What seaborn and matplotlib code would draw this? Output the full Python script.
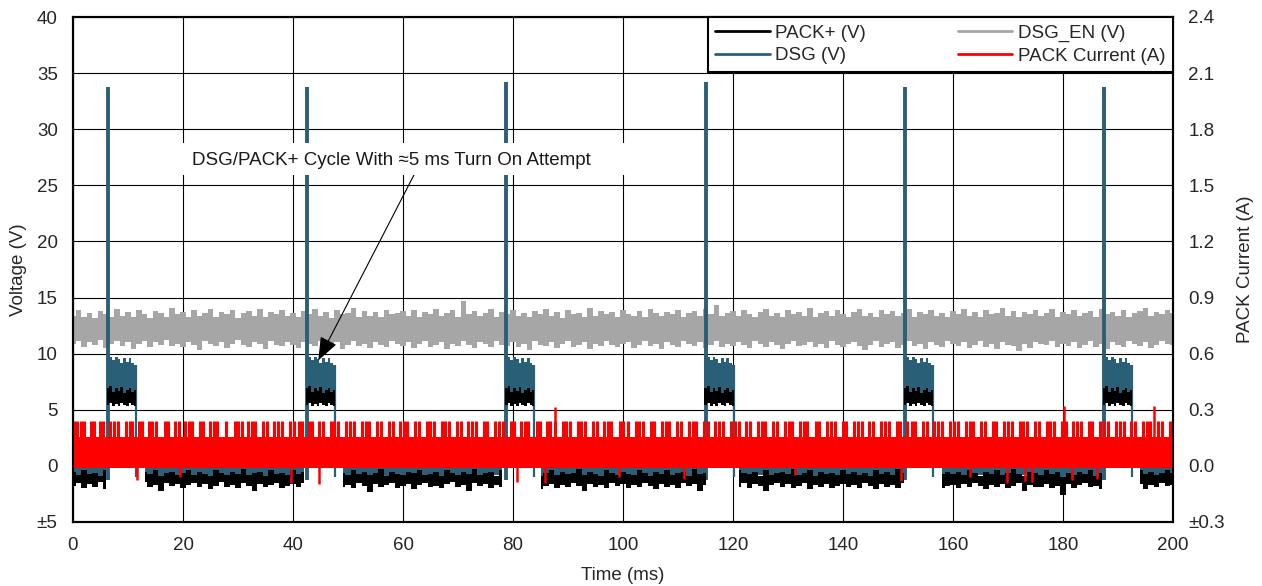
import numpy as np
import matplotlib
matplotlib.use("Agg")
import matplotlib.pyplot as plt
from matplotlib.lines import Line2D
from matplotlib.patches import Rectangle
from matplotlib.ticker import FuncFormatter
import seaborn as sns

# sampled envelopes of the scope traces, one value per ms (0..200 ms)
t = np.arange(0, 201, 1.0)

dsg_en_hi = [
    13.4, 13.9, 13.3, 13.6, 13.2, 13.8, 13.5, 13.3, 14.0, 13.4, 13.7, 13.3, 13.9, 13.5, 13.2, 13.8, 13.6, 13.3, 14.1, 13.5,
    13.7, 13.3, 13.9, 13.4, 13.6, 14.0, 13.3, 13.7, 13.5, 13.9, 13.2, 13.6, 13.8, 13.4, 14.0, 13.3, 13.7, 13.5, 13.9, 13.4,
    13.6, 13.3, 13.8, 13.5, 14.0, 13.4, 13.7, 13.2, 13.9, 13.5, 13.6, 14.1, 13.3, 13.8, 13.4, 13.7, 13.3, 13.9, 13.5, 13.6,
    13.8, 13.4, 13.9, 13.3, 13.7, 13.5, 14.0, 13.4, 13.6, 13.9, 13.3, 14.7, 13.5, 13.8, 13.4, 13.6, 14.0, 13.3, 13.7, 13.5,
    13.9, 13.4, 13.6, 13.3, 13.8, 13.5, 14.0, 13.4, 13.7, 13.2, 13.9, 13.5, 13.6, 13.3, 14.1, 13.4, 13.8, 13.5, 13.7, 13.3,
    13.9, 13.5, 13.4, 13.8, 13.3, 14.0, 13.6, 13.4, 13.7, 13.5, 13.9, 13.3, 13.6, 13.8, 13.4, 14.0, 13.5, 14.3, 13.4, 13.6,
    13.8, 13.4, 13.9, 13.5, 13.3, 13.7, 14.0, 13.4, 13.6, 13.3, 13.9, 13.5, 13.7, 13.4, 14.1, 13.3, 13.6, 13.8, 13.4, 13.9,
    13.5, 13.3, 13.7, 14.0, 13.4, 13.6, 13.3, 13.9, 13.5, 13.8, 13.4, 13.6, 14.0, 13.3, 13.7, 13.5, 13.9, 13.4, 13.6, 13.3,
    13.8, 13.5, 14.0, 13.4, 13.7, 13.3, 13.9, 13.5, 13.6, 14.1, 13.4, 13.8, 13.3, 13.7, 13.5, 13.9, 13.4, 13.6, 14.0, 13.3,
    13.7, 13.5, 13.9, 13.4, 13.6, 13.8, 13.3, 14.0, 13.5, 13.7, 13.4, 13.9, 13.3, 13.6, 13.8, 14.1, 13.4, 13.7, 13.5, 13.9,
    13.6]
dsg_en_lo = [
    10.9, 11.1, 10.6, 11.0, 10.8, 11.2, 10.5, 10.9, 11.1, 10.7, 11.0, 10.4, 10.9, 11.1, 10.6, 11.0, 10.8, 11.2, 10.7, 10.9,
    10.6, 11.0, 10.8, 10.3, 11.1, 10.9, 10.7, 11.0, 10.5, 10.9, 11.2, 10.8, 10.6, 11.0, 10.9, 10.4, 11.1, 10.8, 10.7, 11.0,
    10.8, 10.5, 11.0, 10.9, 10.7, 11.1, 10.6, 10.9, 11.0, 10.4, 10.8, 11.1, 10.7, 10.9, 10.5, 11.0, 10.8, 10.6, 11.1, 10.9,
    10.7, 11.0, 10.5, 10.9, 11.1, 10.6, 10.8, 11.0, 10.4, 10.9, 10.7, 11.1, 10.8, 10.5, 11.0, 10.9, 10.6, 11.1, 10.8, 10.7,
    11.0, 10.6, 10.9, 10.3, 11.1, 10.8, 10.7, 11.0, 10.5, 10.9, 11.1, 10.6, 10.8, 11.0, 10.4, 10.9, 10.7, 11.1, 10.8, 10.6,
    10.9, 11.0, 10.5, 10.8, 11.1, 10.7, 10.9, 10.4, 11.0, 10.8, 10.6, 11.1, 10.9, 10.7, 11.0, 10.5, 10.8, 11.1, 10.6, 10.9,
    10.7, 11.0, 10.8, 10.5, 11.1, 10.9, 10.6, 11.0, 10.8, 10.4, 10.9, 11.1, 10.7, 10.8, 11.0, 10.6, 10.9, 10.5, 11.1, 10.8,
    10.6, 10.9, 11.0, 10.7, 10.3, 10.8, 11.1, 10.6, 10.9, 11.0, 10.5, 10.8, 11.1, 10.7, 10.9, 10.4, 11.0, 10.8, 10.6, 11.1,
    10.9, 10.7, 11.0, 10.5, 10.8, 11.1, 10.6, 10.9, 10.4, 11.0, 10.8, 10.7, 10.2, 10.9, 10.5, 11.0, 10.9, 10.8, 11.1, 10.6,
    10.9, 10.7, 11.0, 10.5, 10.8, 11.1, 10.6, 10.9, 10.4, 11.0, 10.8, 10.6, 11.1, 10.9, 10.7, 11.0, 10.5, 10.8, 11.1, 10.9,
    10.8]

# DSG and PACK+ between pulses (upper part is hidden behind the current trace)
dsg_lo = [
    -1.1, -0.8, -1.3, -0.9, -1.2, -1.0, -1.4, -0.8, -1.1, -1.3, -0.9, -1.2, -1.0, -0.8, -1.3, -1.1, -0.9, -1.4, -1.0, -1.2,
    -0.9, -1.3, -1.0, -1.2, -0.8, -1.1, -1.4, -0.9, -1.2, -1.0, -1.3, -0.8, -1.1, -1.2, -0.9, -1.4, -1.0, -1.2, -0.8, -1.1,
    -1.3, -0.9, -1.1, -1.4, -1.0, -0.8, -1.2, -1.1, -0.9, -1.3, -1.0, -1.2, -0.8, -1.4, -1.1, -0.9, -1.3, -1.0, -1.2, -0.9,
    -1.1, -1.3, -0.8, -1.2, -1.0, -1.4, -0.9, -1.1, -1.3, -0.8, -1.2, -1.0, -1.1, -0.9, -1.4, -1.0, -1.2, -0.8, -1.3, -1.1,
    -0.9, -1.2, -1.0, -1.4, -0.8, -1.1, -1.3, -0.9, -1.2, -1.0, -0.8, -1.3, -1.1, -0.9, -1.4, -1.2, -1.0, -0.8, -1.3, -1.1,
    -1.2, -0.9, -1.3, -1.0, -1.1, -1.4, -0.8, -1.2, -0.9, -1.3, -1.1, -1.0, -1.4, -0.8, -1.2, -1.0, -1.3, -0.9, -1.1, -1.2,
    -1.0, -1.3, -0.9, -1.1, -1.4, -0.8, -1.2, -1.0, -1.3, -0.9, -1.1, -1.2, -0.8, -1.4, -1.0, -1.3, -0.9, -1.1, -1.2, -1.0,
    -1.3, -0.8, -1.1, -1.2, -0.9, -1.4, -1.0, -1.2, -0.8, -1.3, -1.1, -0.9, -1.2, -1.0, -1.4, -0.8, -1.1, -1.3, -0.9, -1.2,
    -1.0, -1.2, -0.9, -1.4, -1.1, -0.8, -1.3, -1.0, -1.2, -0.9, -1.1, -1.4, -1.0, -0.8, -1.3, -1.2, -0.9, -1.1, -1.0, -1.3,
    -1.1, -0.9, -1.3, -1.0, -1.2, -0.8, -1.4, -1.1, -0.9, -1.2, -1.0, -1.3, -0.8, -1.1, -1.4, -0.9, -1.2, -1.0, -1.3, -1.1,
    -1.0]
pack_hi = [
    -0.5, -0.8, -0.4, -0.7, -0.6, -0.9, -0.4, -0.7, -0.5, -0.8, -0.6, -0.3, -0.8, -0.5, -0.7, -0.4, -0.9, -0.6, -0.5, -0.8,
    -0.6, -0.4, -0.8, -0.5, -0.7, -0.9, -0.4, -0.6, -0.8, -0.5, -0.7, -0.3, -0.8, -0.6, -0.5, -0.9, -0.4, -0.7, -0.6, -0.8,
    -0.4, -0.7, -0.5, -0.8, -0.6, -0.4, -0.9, -0.5, -0.7, -0.6, -0.8, -0.4, -0.7, -0.5, -0.8, -0.6, -0.3, -0.9, -0.5, -0.7,
    -0.8, -0.5, -0.6, -0.4, -0.8, -0.7, -0.5, -0.9, -0.4, -0.6, -0.8, -0.5, -0.7, -0.3, -0.8, -0.6, -0.5, -0.9, -0.4, -0.7,
    -0.6, -0.8, -0.4, -0.7, -0.5, -0.9, -0.6, -0.4, -0.8, -0.5, -0.7, -0.6, -0.3, -0.8, -0.5, -0.7, -0.9, -0.4, -0.6, -0.8,
    -0.5, -0.7, -0.8, -0.4, -0.6, -0.9, -0.5, -0.7, -0.4, -0.8, -0.6, -0.5, -0.9, -0.3, -0.7, -0.6, -0.8, -0.4, -0.5, -0.7,
    -0.8, -0.4, -0.6, -0.7, -0.5, -0.9, -0.4, -0.8, -0.6, -0.5, -0.7, -0.3, -0.8, -0.6, -0.4, -0.9, -0.5, -0.7, -0.6, -0.8,
    -0.4, -0.7, -0.5, -0.8, -0.6, -0.9, -0.4, -0.7, -0.5, -0.8, -0.3, -0.6, -0.7, -0.9, -0.5, -0.4, -0.8, -0.6, -0.7, -0.5,
    -0.7, -0.5, -0.8, -0.4, -0.6, -0.9, -0.5, -0.7, -0.4, -0.8, -0.6, -0.3, -0.7, -0.9, -0.5, -0.6, -0.8, -0.4, -0.7, -0.5,
    -1.0, -0.6, -0.8, -0.5, -0.7, -0.4, -0.9, -0.6, -0.5, -0.8, -0.7, -0.3, -0.6, -0.9, -0.4, -0.7, -0.5, -0.8, -0.6, -0.4,
    -0.6]
pack_lo = [
    -1.8, -1.5, -2.0, -1.6, -1.9, -1.4, -2.1, -1.7, -1.5, -1.9, -1.6, -2.0, -1.8, -1.4, -1.9, -1.7, -2.2, -1.5, -1.8, -1.6,
    -2.0, -1.7, -1.5, -1.9, -1.6, -2.1, -1.8, -1.4, -1.9, -1.7, -2.0, -1.5, -1.8, -2.2, -1.6, -1.9, -1.7, -1.5, -2.0, -1.8,
    -1.6, -1.9, -1.5, -2.0, -1.7, -1.8, -1.4, -2.1, -1.6, -1.9, -1.7, -2.0, -1.5, -1.8, -2.3, -1.6, -1.9, -1.7, -1.5, -2.0,
    -1.8, -1.6, -2.1, -1.7, -1.5, -1.9, -1.8, -2.0, -1.6, -1.4, -1.9, -1.7, -2.2, -1.5, -1.8, -1.6, -2.0, -1.7, -1.9, -1.5,
    -2.0, -1.7, -1.6, -1.9, -1.5, -2.1, -1.8, -1.6, -2.0, -1.7, -1.9, -1.5, -1.8, -2.2, -1.6, -1.9, -1.7, -2.0, -1.5, -1.8,
    -1.6, -2.0, -1.7, -1.9, -1.5, -1.8, -2.1, -1.6, -1.9, -1.7, -2.0, -1.5, -1.8, -1.6, -2.2, -1.7, -1.9, -1.5, -2.0, -1.8,
    -1.7, -1.9, -1.5, -2.0, -1.6, -1.8, -2.2, -1.7, -1.5, -1.9, -1.6, -2.0, -1.8, -1.5, -2.1, -1.7, -1.9, -1.6, -2.0, -1.8,
    -1.6, -1.9, -1.7, -2.0, -1.5, -1.8, -2.1, -1.6, -1.9, -1.7, -2.0, -1.5, -1.8, -2.2, -1.6, -1.9, -1.7, -1.5, -2.0, -1.8,
    -1.7, -2.0, -1.6, -1.9, -1.5, -1.8, -2.1, -1.7, -1.9, -1.6, -2.0, -1.8, -1.5, -2.2, -1.7, -1.9, -1.9, -1.6, -2.0, -1.8,
    -2.6, -1.6, -2.0, -1.7, -1.5, -1.9, -1.8, -2.1, -1.6, -1.9, -1.7, -2.0, -1.5, -1.8, -1.6, -2.1, -1.7, -1.9, -1.5, -1.8,
    -1.7]

# turn-on attempts (ms / V)
pulse_start = [6.1, 42.3, 78.5, 114.8, 151.0, 187.2]
pulse_end = [11.4, 47.6, 83.9, 120.1, 156.3, 192.6]
spike_t = [6.3, 42.5, 78.8, 115.0, 151.2, 187.5]
spike_peak = [33.8, 33.8, 34.2, 34.2, 33.8, 33.8]

# shape inside one attempt, sampled every 0.5 ms from its start
pulse_offset = [0.0, 0.5, 1.0, 1.5, 2.0, 2.5, 3.0, 3.5, 4.0, 4.5, 5.0]
pulse_dsg_hi = [10.0, 9.7, 9.4, 9.7, 9.5, 9.2, 9.6, 9.3, 9.6, 9.2, 9.0]
pulse_pack_hi = [6.9, 7.1, 6.6, 6.9, 6.7, 7.0, 6.5, 6.8, 6.9, 6.6, 6.8]
pulse_pack_lo = [5.4, 5.6, 5.3, 5.5, 5.3, 5.6, 5.4, 5.3, 5.6, 5.4, 5.3]

# PACK current (A)
cur_core_lo = -0.012
cur_core_hi = 0.156
cur_spike_hi = 0.24
cur_spike_t = [
    0.2, 0.7, 1.5, 2.0, 3.3, 3.8, 4.9, 5.4, 6.8, 7.5, 8.1, 9.6,
    10.3, 10.8, 12.0, 12.6, 13.9, 14.4, 15.0, 16.7, 17.2, 18.5, 19.3,
    20.4, 21.0, 21.6, 23.1, 23.7, 24.9, 25.6, 26.2, 27.8, 29.4,
    30.0, 30.7, 31.9, 32.5, 33.1, 34.6, 35.2, 36.5, 37.3, 38.0, 39.5,
    40.2, 41.0, 41.6, 42.9, 43.5, 44.8, 45.4, 46.9, 47.5, 48.2, 49.7,
    50.3, 51.1, 52.6, 53.2, 53.8, 55.3, 56.0, 57.4, 58.1, 59.5,
    60.1, 60.8, 62.2, 62.9, 64.3, 64.9, 65.6, 67.0, 67.7, 68.4, 69.8,
    70.5, 71.9, 72.6, 73.2, 74.7, 75.3, 76.8, 77.4, 78.1, 79.6,
    80.2, 81.5, 82.1, 82.8, 84.3, 84.9, 86.1, 86.8, 87.6, 89.0, 89.7,
    90.3, 91.8, 92.4, 93.0, 94.6, 95.2, 96.5, 97.3, 97.9, 99.4,
    100.0, 100.9, 102.3, 102.9, 103.6, 105.0, 105.7, 107.1, 107.8, 108.4, 109.9,
    110.6, 112.0, 112.7, 113.3, 114.8, 115.4, 116.7, 117.5, 118.1, 119.6,
    120.3, 121.0, 122.4, 123.1, 124.5, 125.2, 125.9, 127.3, 128.0, 129.4,
    130.1, 130.8, 132.2, 132.9, 133.5, 135.0, 135.7, 137.1, 137.8, 138.5,
    140.0, 140.6, 142.0, 142.7, 143.4, 144.8, 145.5, 146.9, 147.6, 148.3, 149.8,
    150.4, 151.7, 152.5, 153.1, 154.6, 155.2, 156.6, 157.3, 158.0, 159.5,
    160.2, 160.9, 162.3, 163.0, 163.6, 165.1, 165.8, 167.2, 167.9, 169.3,
    170.0, 170.7, 172.1, 172.8, 173.4, 174.9, 175.6, 177.0, 177.7, 178.4, 179.8,
    180.5, 181.9, 182.6, 183.2, 184.7, 185.3, 186.7, 187.4, 188.1, 189.6,
    190.3, 191.0, 192.4, 193.1, 194.5, 195.2, 195.9, 197.3, 198.0, 199.5]
cur_tall_t = [87.6, 180.2, 196.6]
cur_tall_hi = [0.315, 0.318, 0.318]
cur_dip_t = [11.6, 19.5, 39.6, 44.7, 80.7, 85.8, 99.2, 111.0, 131.3, 150.5,
             163.0, 169.8, 173.1, 174.3, 181.6, 186.1]
cur_dip_lo = [-0.075, -0.06, -0.09, -0.095, -0.085, -0.09, -0.06, -0.07, -0.05, -0.08,
              -0.06, -0.09, -0.08, -0.085, -0.075, -0.07]

x_ticks = [0, 20, 40, 60, 80, 100, 120, 140, 160, 180, 200]
v_ticks = [-5, 0, 5, 10, 15, 20, 25, 30, 35, 40]
a_ticks = [-0.3, 0.0, 0.3, 0.6, 0.9, 1.2, 1.5, 1.8, 2.1, 2.4]

C_PACK = "black"
C_EN = "#a6a6a6"
C_DSG = "#2a5f78"
C_CUR = "#ff0000"
FS = 13.5

sns.set_theme(style="white")
plt.rcParams["font.family"] = ["Liberation Sans", "DejaVu Sans"]

fig = plt.figure(figsize=(12.62, 5.86), dpi=100)
ax = fig.add_axes([73 / 1262, 64 / 586, 1100 / 1262, 505 / 586])

# baseline is absent while an attempt is running
off = np.zeros(len(t), dtype=bool)
for s, e in zip(pulse_start, pulse_end):
    off |= (t > s + 0.2) & (t < e + 0.9)
on = ~off

ax.fill_between(t, dsg_en_lo, dsg_en_hi, step="mid", color=C_EN, lw=0, zorder=2)
ax.fill_between(t, np.zeros(len(t)), dsg_lo, where=on, step="mid", color=C_DSG, lw=0, zorder=3)
ax.fill_between(t, pack_lo, pack_hi, where=on, step="mid", color=C_PACK, lw=0, zorder=4)

offs = np.array(pulse_offset)
for s, e in zip(pulse_start, pulse_end):
    n = int(np.sum(offs < e - s))
    tp = np.append(s + offs[:n], e)
    hi = np.append(pulse_dsg_hi[:n], pulse_dsg_hi[n - 1])
    phi = np.append(pulse_pack_hi[:n], pulse_pack_hi[n - 1])
    plo = np.append(pulse_pack_lo[:n], pulse_pack_lo[n - 1])
    ax.fill_between(tp, plo, hi, step="post", color=C_DSG, lw=0, zorder=3)
    ax.fill_between(tp, plo, phi, step="post", color=C_PACK, lw=0, zorder=4)

ax.vlines(spike_t, -1.3, spike_peak, color=C_DSG, lw=2.8, zorder=3.5)
ax.vlines(pulse_end, -1.0, pulse_dsg_hi[-1], color=C_DSG, lw=1.6, zorder=3.5)

ax.set_xlim(0, 200)
ax.set_ylim(-5, 40)
ax.set_xticks(x_ticks)
ax.set_yticks(v_ticks)
ax.yaxis.set_major_formatter(FuncFormatter(lambda v, p: f"±{abs(v):.0f}" if v < 0 else f"{v:.0f}"))
ax.grid(True, color="black", lw=0.8)
ax.tick_params(length=0, labelsize=FS, pad=11)
ax.set_xlabel("Time (ms)", fontsize=FS, labelpad=9)
ax.set_ylabel("Voltage (V)", fontsize=FS, labelpad=7)

# annotation
ax.add_patch(Rectangle((18.9, 25.9), 82.1, 2.9, facecolor="white", edgecolor="none", zorder=8))
ax.text(57.8, 27.2, "DSG/PACK+ Cycle With ≈5 ms Turn On Attempt", ha="center", va="center",
        fontsize=FS, color="#1a1a1a", zorder=9)
ax.annotate("", xy=(44.6, 9.4), xytext=(62.6, 26.5),
            arrowprops=dict(arrowstyle="-|>,head_length=0.9,head_width=0.35", color="black",
                            lw=0.8, mutation_scale=16, shrinkA=0, shrinkB=0), zorder=7)

ax2 = ax.twinx()
ax2.fill_between([0, 200], [cur_core_lo, cur_core_lo], [cur_core_hi, cur_core_hi], color=C_CUR, lw=0)
ax2.vlines(cur_spike_t, cur_core_hi - 0.01, cur_spike_hi, color=C_CUR, lw=2.2)
ax2.vlines(cur_tall_t, cur_core_hi - 0.01, cur_tall_hi, color=C_CUR, lw=1.8)
ax2.vlines(cur_dip_t, cur_dip_lo, cur_core_lo + 0.01, color=C_CUR, lw=1.8)
ax2.set_ylim(-0.3, 2.4)
ax2.set_yticks(a_ticks)
ax2.yaxis.set_major_formatter(FuncFormatter(lambda v, p: f"±{abs(v):.1f}" if v < -1e-9 else f"{abs(v):.1f}"))
ax2.tick_params(length=0, labelsize=FS, pad=11)
ax2.set_ylabel("PACK Current (A)", fontsize=FS, labelpad=9)
ax2.grid(False)

for a in (ax, ax2):
    for sp in a.spines.values():
        sp.set_color("black")
        sp.set_linewidth(1.5)

handles = [Line2D([], [], color=C_PACK, lw=2), Line2D([], [], color=C_DSG, lw=2),
           Line2D([], [], color=C_EN, lw=2), Line2D([], [], color=C_CUR, lw=2)]
labels = ["PACK+ (V)", "DSG (V)", "DSG_EN (V)", "PACK Current (A)"]
leg = ax2.legend(handles, labels, loc="upper right", ncol=2, fontsize=FS, frameon=True,
                 fancybox=False, framealpha=1, edgecolor="black", borderaxespad=0,
                 handlelength=2.9, handletextpad=0.3, columnspacing=4.9,
                 labelspacing=0.3, borderpad=0.4)
leg.get_frame().set_linewidth(1.5)

fig.savefig("out.png", dpi=100)
